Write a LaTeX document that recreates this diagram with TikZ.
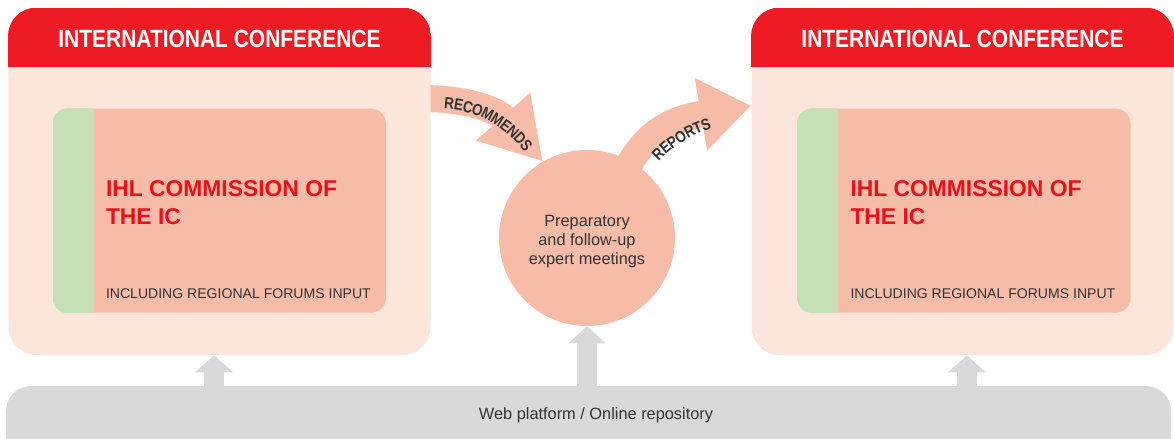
\documentclass[tikz,border=0pt]{standalone}
\usepackage{fontspec}
\setmainfont{Liberation Sans}
\newfontfamily\condfont{Liberation Sans}[FakeStretch=0.84]
\usetikzlibrary{backgrounds,calc,shapes,arrows.meta,decorations.text,positioning}
\definecolor{confred}{HTML}{ED1C24}
\definecolor{confpink}{HTML}{FCE5DB}
\definecolor{salmon}{HTML}{F7BCA7}
\definecolor{stripgreen}{HTML}{C5E0B4}
\definecolor{webgray}{HTML}{D9D9D9}
\definecolor{ihlred}{HTML}{E8101A}
\definecolor{darktext}{HTML}{333333}
\tikzstyle{conference}=[rectangle,rounded corners=0.56cm,fill=confpink,minimum width=8.44cm,minimum height=6.94cm,inner sep=0pt]
\tikzstyle{commission}=[rectangle,rounded corners=0.3cm,fill=salmon,minimum width=6.66cm,minimum height=4.08cm,inner sep=0pt]
\tikzstyle{heading}=[text=white,font=\condfont\bfseries\fontsize{14.2}{17}\selectfont,inner sep=0pt]
\tikzstyle{title}=[text=ihlred,font=\bfseries\fontsize{13}{15.9}\selectfont,align=left,inner sep=0pt]
\tikzstyle{note}=[text=darktext,font=\fontsize{8}{10}\selectfont,inner sep=0pt]
\tikzstyle{meeting}=[circle,fill=salmon,minimum size=3.52cm,inner sep=0pt]
\tikzstyle{fatarrow}=[draw=salmon,line width=0.54cm]
\tikzstyle{uparrow}=[draw=webgray,line width=0.4cm,-{Triangle[width=0.74cm,length=0.34cm]}]
\tikzstyle{arrowlabel}=[decorate,decoration={text along path,text align=center,raise=-3.3pt,text color=darktext}]

\begin{document}
\begin{tikzpicture}
    \useasboundingbox (0,0) rectangle (23.48,-8.78);

    \node[conference] (lconf) at (4.39,-3.63) {};
    \node[conference] (rconf) at (19.25,-3.63) {};
    \node[rectangle,rounded corners=0.5cm,fill=webgray,minimum width=23.3cm,minimum height=1.5cm] (web) at (11.77,-8.47) {};
    \node[text=darktext,font=\fontsize{9.3}{11}\selectfont] (webtxt) at ($(web.north)+(0.15,-0.6)$) {Web platform / Online repository};

    \begin{scope}
      \clip[rounded corners=0.56cm] (lconf.south west) rectangle (lconf.north east);
      \fill[confred] (lconf.north west) rectangle ($(lconf.north east)+(0,-1.18)$);
    \end{scope}
    \begin{scope}
      \clip[rounded corners=0.56cm] (rconf.south west) rectangle (rconf.north east);
      \fill[confred] (rconf.north west) rectangle ($(rconf.north east)+(0,-1.18)$);
    \end{scope}
    \node[heading] (lhead) at ($(lconf.north)+(0,-0.62)$) {INTERNATIONAL CONFERENCE};
    \node[heading] (rhead) at ($(rconf.north)+(0,-0.62)$) {INTERNATIONAL CONFERENCE};

    \node[commission] (lihl) at ($(lconf.north)+(0,-4.06)$) {};
    \node[commission] (rihl) at ($(rconf.north)+(0.03,-4.06)$) {};
    \begin{scope}
      \clip[rounded corners=0.3cm] (lihl.south west) rectangle (lihl.north east);
      \fill[stripgreen] (lihl.south west) rectangle ($(lihl.north west)+(0.82,0)$);
    \end{scope}
    \begin{scope}
      \clip[rounded corners=0.3cm] (rihl.south west) rectangle (rihl.north east);
      \fill[stripgreen] (rihl.south west) rectangle ($(rihl.north west)+(0.82,0)$);
    \end{scope}
    \node[title,anchor=north west] (ltitle) at ($(lihl.north west)+(1.06,-1.44)$) {IHL COMMISSION OF\\THE IC};
    \node[title,anchor=north west] (rtitle) at ($(rihl.north west)+(1.06,-1.44)$) {IHL COMMISSION OF\\THE IC};
    \node[note,anchor=base west] (lnote) at ($(lihl.south west)+(1.06,0.3)$) {INCLUDING REGIONAL FORUMS INPUT};
    \node[note,anchor=base west] (rnote) at ($(rihl.south west)+(1.06,0.3)$) {INCLUDING REGIONAL FORUMS INPUT};

    \node[meeting] (meet) at (11.74,-4.76) {};
    \node[align=center,text=darktext,font=\fontsize{9.3}{10.8}\selectfont] (meettxt) at ($(meet.center)+(0,-0.08)$) {Preparatory\\and follow-up\\expert meetings};

    \begin{scope}[on background layer]
      \draw[fatarrow,-{Triangle[width=1.36cm,length=1.2cm]}] ($(lconf.north east)+(-0.1,-1.82)$) .. controls +(0.8,0) and +(-0.92,1.04) .. (meet.120);
      \draw[fatarrow,-{Triangle[width=1.4cm,length=1.02cm]}] ($(meet.center)!0.85!(meet.60)$) .. controls +(0.4,0.8) and +(-1.64,-0.28) .. ($(rconf.north west)+(0,-1.96)$);
    \end{scope}
    \path[arrowlabel,decoration={text={|\condfont\bfseries\fontsize{9.2}{11}\selectfont|RECOMMENDS}}] (8.76,-2.06) .. controls (9.4,-2.06) and (10.1,-2.28) .. (10.66,-3.08);
    \path[arrowlabel,decoration={text={|\condfont\bfseries\fontsize{9.2}{11}\selectfont|REPORTS}}] (12.94,-3.34) .. controls (13.24,-2.9) and (13.76,-2.56) .. (14.44,-2.4);

    \draw[uparrow] (web.north -| lconf.south) ++(-0.11,0) -- ($(lconf.south)+(-0.11,0)$);
    \draw[uparrow] (web.north -| meet.south) -- (meet.south);
    \draw[uparrow] (web.north -| rconf.south) ++(0.09,0) -- ($(rconf.south)+(0.09,0)$);
  \end{tikzpicture}
\end{document}
